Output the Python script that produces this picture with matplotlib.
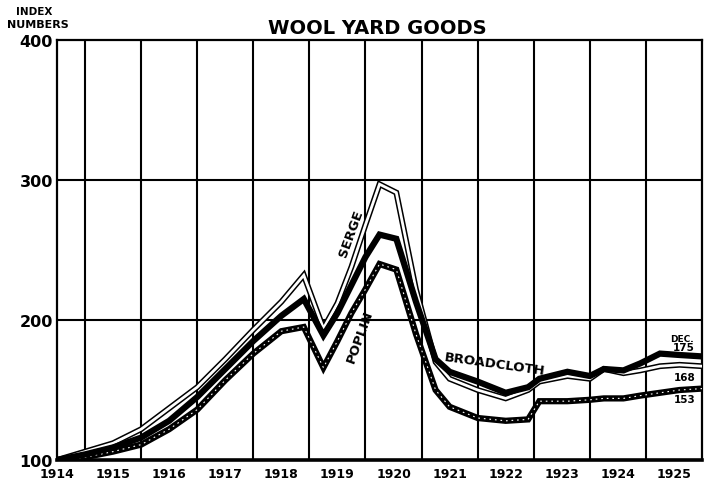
import matplotlib.pyplot as plt
import matplotlib.transforms as mtransforms

# dates in decimal years, index numbers (July 1914 = 100)
dates = [1914.5, 1915.0, 1915.5, 1916.0, 1916.5, 1917.0, 1917.5, 1918.0,
         1918.5, 1918.9, 1919.25, 1919.5, 1919.75, 1920.0, 1920.25, 1920.55,
         1920.9, 1921.25, 1921.5, 1922.0, 1922.5, 1922.9, 1923.1, 1923.6,
         1924.0, 1924.25, 1924.6, 1924.9, 1925.25, 1925.6, 1926.0]
serge = [100, 106, 112, 122, 137, 152, 172, 193,
         213, 232, 194, 212, 238, 268, 297, 291,
         222, 170, 158, 150, 144, 150, 156, 160,
         158, 165, 162, 164, 167, 168, 167]
broadcloth = [100, 104, 109, 116, 128, 145, 165, 185,
              203, 215, 189, 205, 225, 245, 261, 258,
              213, 172, 163, 156, 148, 152, 158, 163,
              160, 165, 164, 169, 176, 175, 174]
poplin = [100, 102, 106, 111, 122, 136, 157, 176,
          192, 195, 166, 185, 205, 222, 240, 236,
          190, 150, 138, 130, 128, 129, 142, 142,
          143, 144, 144, 146, 148, 150, 151]

year_labels = ['1914', '1915', '1916', '1917', '1918', '1919', '1920',
               '1921', '1922', '1923', '1924', '1925']
year_pos = [1914.5] + [y + 0.5 for y in range(1915, 1926)]
y_ticks = [100, 200, 300, 400]

fig = plt.figure(figsize=(7.04, 4.85), dpi=100)
ax = fig.add_axes([57 / 704, 1 - 461 / 485, 645 / 704, 420 / 485])
ax.set_xlim(1914.5, 1926.0)
ax.set_ylim(100, 400)

for yr in range(1915, 1926):
    ax.axvline(yr, color='black', lw=1.5, zorder=1)
for v in [200, 300]:
    ax.axhline(v, color='black', lw=1.5, zorder=1)

for side in ['left', 'right', 'top']:
    ax.spines[side].set_linewidth(1.6)
ax.spines['bottom'].set_linewidth(2.6)

# serge: hollow line
ax.plot(dates, serge, color='black', lw=4.2, solid_joinstyle='miter', zorder=3)
ax.plot(dates, serge, color='white', lw=2.0, solid_joinstyle='miter', zorder=4)
# broadcloth: solid heavy line
ax.plot(dates, broadcloth, color='black', lw=4.5, solid_joinstyle='miter', zorder=5)
# poplin: heavy line with stippled centre
ax.plot(dates, poplin, color='black', lw=4.5, solid_joinstyle='miter', zorder=3)
ax.plot(dates, poplin, color='white', lw=0.8, ls=(0, (1.5, 3.5)), zorder=4)

ax.set_xticks([])
ax.set_yticks(y_ticks)
ax.set_yticklabels([str(t) for t in y_ticks], fontsize=11.5, fontweight='bold')
ax.tick_params(axis='y', length=0, pad=3)

trans = mtransforms.blended_transform_factory(ax.transData, ax.transAxes)
for lab, pos in zip(year_labels, year_pos):
    ax.text(pos, -0.032, lab, transform=trans, ha='center', va='center',
            fontsize=9, fontweight='bold')

ax.text(0.497, 1.008, 'WOOL YARD GOODS', transform=ax.transAxes, ha='center',
        va='bottom', fontsize=14, fontweight='bold')
fig.text(34 / 704, 1 - 12 / 485, 'INDEX', ha='center', va='center',
         fontsize=7.5, fontweight='bold')
fig.text(38 / 704, 1 - 24.5 / 485, 'NUMBERS', ha='center', va='center',
         fontsize=8, fontweight='bold')

ax.text(1919.74, 262, 'SERGE', rotation=70, ha='center', va='center',
        fontsize=9.5, fontweight='bold', zorder=6)
ax.text(1919.9, 189, 'POPLIN', rotation=70, ha='center', va='center',
        fontsize=9.5, fontweight='bold', zorder=6)
ax.text(1922.3, 169, 'BROADCLOTH', rotation=-8, ha='center', va='center',
        fontsize=9.5, fontweight='bold', zorder=6)

ax.text(1925.65, 187, 'DEC.', ha='center', va='center', fontsize=6.5,
        fontweight='bold', zorder=6)
ax.text(1925.68, 181, '175', ha='center', va='center', fontsize=7.5,
        fontweight='bold', zorder=6)
ax.text(1925.7, 159, '168', ha='center', va='center', fontsize=7.5,
        fontweight='bold', zorder=6)
ax.text(1925.7, 143.5, '153', ha='center', va='center', fontsize=7.5,
        fontweight='bold', zorder=6)

fig.savefig('out.png', dpi=100)
